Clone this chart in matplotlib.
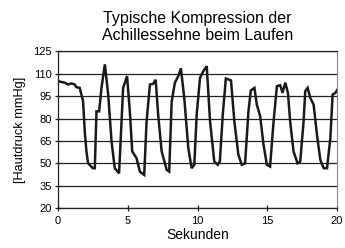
import matplotlib
matplotlib.use("Agg")
import matplotlib.pyplot as plt

plt.rcParams['font.family'] = ['Liberation Sans', 'DejaVu Sans']

seconds = [0.0, 0.48, 0.72, 0.96, 1.2, 1.32, 1.56, 1.8, 1.92, 2.04, 2.16, 2.5, 2.64, 2.76, 2.95,
           3.12, 3.36, 3.6, 3.84, 4.07, 4.38, 4.67, 4.95, 5.15, 5.32, 5.63, 5.87, 6.18, 6.35,
           6.59, 6.82, 7.0, 7.18, 7.43, 7.79, 7.97, 8.15, 8.38, 8.62, 8.81, 9.05, 9.34, 9.58,
           9.77, 9.94, 10.18, 10.42, 10.66, 10.9, 11.2, 11.45, 11.6, 11.81, 12.03, 12.4, 12.64,
           12.93, 13.17, 13.41, 13.65, 13.82, 14.08, 14.25, 14.49, 14.73, 14.97, 15.2, 15.45,
           15.69, 15.93, 16.09, 16.29, 16.48, 16.64, 16.88, 17.17, 17.36, 17.6, 17.72, 17.89,
           18.08, 18.32, 18.56, 18.8, 19.04, 19.28, 19.52, 19.68, 19.88, 20.0]
pressure = [105, 104, 102.8, 103.5, 102.8, 101, 100.5, 91.5, 71.4, 58, 50, 46.7, 46.7, 84.8, 84.8,
            100.5, 116.3, 96, 64.6, 46.7, 43.3, 100.5, 108.4, 84.8, 58, 53.4, 44.4, 42.2, 78,
            102.8, 103.2, 106, 82.6, 58, 45.6, 44.4, 91.5, 104, 108.4, 113.6, 93.8, 60.2, 46.7,
            49, 82.6, 107.3, 111.8, 115.1, 78, 51.2, 49, 51.2, 82.6, 106.8, 105.5, 78,
            55.7, 49, 50, 84.8, 98.8, 100.5, 89.3, 81.5, 62.4, 49, 47.8, 78,
            101.7, 102.3, 97.2, 104, 97.2, 78, 58, 50, 51.2, 78, 98.3, 100.5,
            93.8, 89.3, 69.1, 52.3, 46.7, 46.7, 66.9, 96, 97.2, 99]

yticks = [20, 35, 50, 65, 80, 95, 110, 125]
xticks = [0, 5, 10, 15, 20]

fig = plt.figure(figsize=(3.45, 2.48), dpi=100)
ax = fig.add_axes([0.168, 0.161, 0.809, 0.632])
ax.plot(seconds, pressure, color='#1a1a1a', lw=1.8, solid_joinstyle='miter', zorder=3)
ax.set_xlim(0, 20)
ax.set_ylim(20, 125)
ax.set_xticks(xticks)
ax.set_yticks(yticks)
ax.yaxis.grid(True, color='#222222', lw=0.9)
ax.tick_params(axis='both', direction='inout', length=5, width=0.9, labelsize=8, pad=2, color='#222222')
ax.tick_params(axis='x', pad=3)
for side in ['left', 'bottom']:
    ax.spines[side].set_color('#222222')
    ax.spines[side].set_linewidth(0.9)
ax.spines['right'].set_color('#888888')
ax.spines['top'].set_color('#222222')
ax.spines['top'].set_linewidth(0.9)
ax.set_xlabel('Sekunden', fontsize=10, labelpad=2)
ax.set_ylabel('[Hautdruck mmHg]', fontsize=9.2, labelpad=5)
ax.set_title('Typische Kompression der\nAchillessehne beim Laufen', fontsize=11.5, linespacing=1.15, pad=8)
fig.savefig('out.png', dpi=100)
